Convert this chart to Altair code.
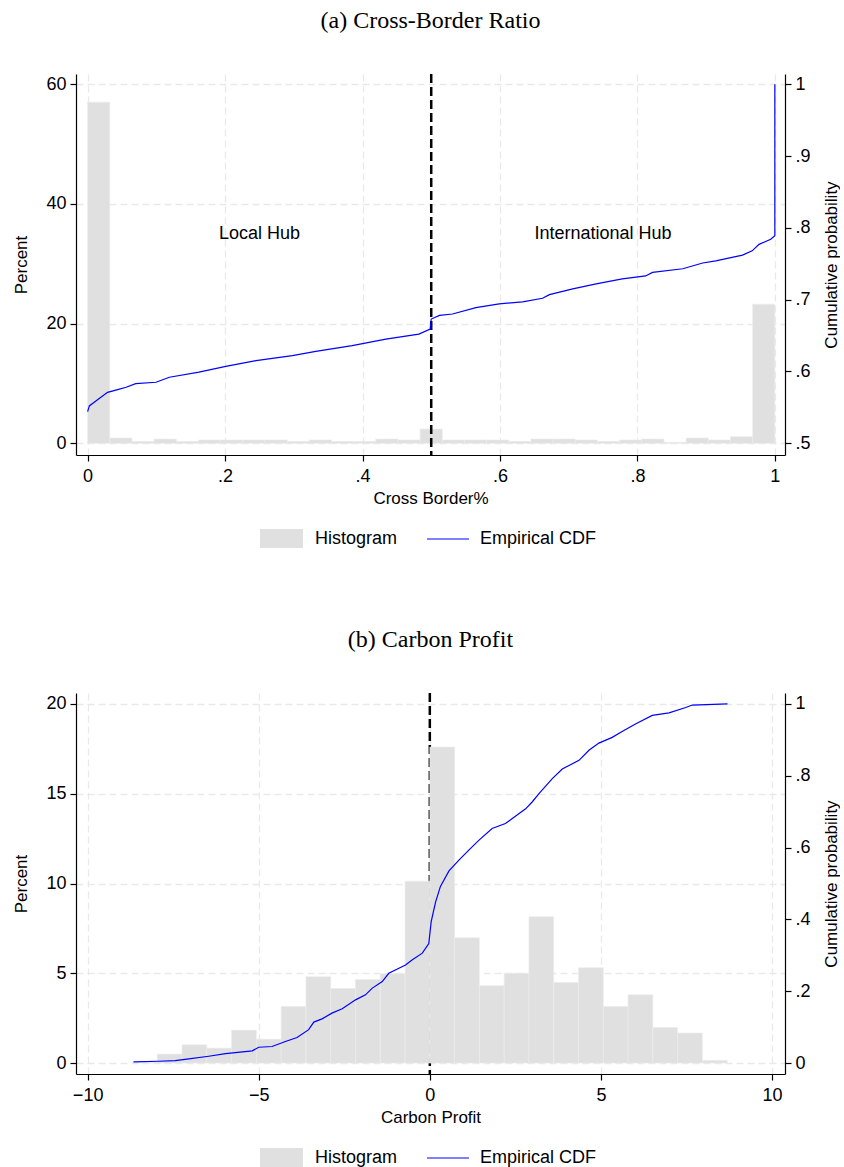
import altair as alt
import pandas as pd

# ---------------- Panel (a): Cross-Border Ratio ----------------
a_title = "(a) Cross-Border Ratio"
a_xtitle = "Cross Border%"
a_bins = 31
a_bin_start = 0.0
a_bin_width = 1.0 / 31
a_pct = [57.0, 0.89, 0.33, 0.72, 0.33, 0.56, 0.56, 0.56, 0.56, 0.33, 0.56,
         0.33, 0.33, 0.72, 0.56, 2.39, 0.56, 0.56, 0.56, 0.33, 0.72, 0.72,
         0.56, 0.33, 0.56, 0.72, 0.17, 0.89, 0.56, 1.11, 23.25]
a_cdf_x = [0.0, 0.0025, 0.012, 0.029, 0.045, 0.056, 0.070, 0.0995, 0.119, 0.162,
           0.201, 0.245, 0.298, 0.332, 0.385, 0.434, 0.482, 0.4985, 0.5, 0.512,
           0.531, 0.565, 0.599, 0.633, 0.662, 0.672, 0.706, 0.740, 0.778, 0.812,
           0.822, 0.866, 0.895, 0.914, 0.953, 0.967, 0.977, 0.994, 1.0, 1.0]
a_cdf_y = [0.544, 0.552, 0.559, 0.571, 0.575, 0.578, 0.583, 0.585, 0.592, 0.599,
           0.607, 0.615, 0.622, 0.628, 0.636, 0.645, 0.652, 0.659, 0.673, 0.678,
           0.680, 0.689, 0.694, 0.697, 0.702, 0.707, 0.715, 0.722, 0.729, 0.733,
           0.738, 0.743, 0.751, 0.754, 0.762, 0.768, 0.777, 0.784, 0.789, 1.0]
a_cutoff = 0.5
a_labels = ["Local Hub", "International Hub"]
a_label_x = [0.25, 0.75]
a_label_y = [35, 35]
a_xticks = [0, 0.2, 0.4, 0.6, 0.8, 1]
a_yticks = [0, 20, 40, 60]
a_cticks = [0.5, 0.6, 0.7, 0.8, 0.9, 1]

# ---------------- Panel (b): Carbon Profit ----------------
b_title = "(b) Carbon Profit"
b_xtitle = "Carbon Profit"
b_bins = 24
b_bin_start = -8.69
b_bin_width = 0.7242
b_pct = [0.05, 0.5, 1.02, 0.83, 1.83, 1.33, 3.15, 4.81, 4.15, 4.65, 4.98, 10.13,
         17.6, 6.98, 4.31, 5.0, 8.15, 4.48, 5.31, 3.15, 3.80, 1.98, 1.67, 0.15]
b_cdf_x = [-8.66, -7.92, -7.44, -7.10, -6.46, -5.97, -5.19, -5.0, -4.61, -4.22,
           -3.88, -3.54, -3.39, -3.15, -2.86, -2.56, -2.17, -1.88, -1.69, -1.39,
           -1.20, -0.71, -0.52, -0.22, -0.03, 0.04, 0.17, 0.31, 0.56, 0.85,
           1.14, 1.43, 1.82, 2.21, 2.41, 2.80, 2.99, 3.19, 3.58, 3.87,
           4.36, 4.65, 4.94, 5.33, 5.62, 6.01, 6.50, 6.99, 7.48, 7.67, 8.70]
b_cdf_y = [0.003, 0.005, 0.007, 0.011, 0.019, 0.026, 0.034, 0.044, 0.046, 0.060,
           0.071, 0.093, 0.114, 0.123, 0.139, 0.151, 0.176, 0.190, 0.208, 0.227,
           0.25, 0.273, 0.287, 0.306, 0.333, 0.394, 0.449, 0.492, 0.535, 0.565,
           0.593, 0.62, 0.653, 0.667, 0.681, 0.708, 0.727, 0.75, 0.792, 0.819,
           0.843, 0.871, 0.891, 0.907, 0.923, 0.944, 0.968, 0.975, 0.99, 0.997, 1.0]
b_cutoff = 0.0
b_xticks = [-10, -5, 0, 5, 10]
b_yticks = [0, 5, 10, 15, 20]
b_cticks = [0, 0.2, 0.4, 0.6, 0.8, 1]

SANS = "Liberation Sans"
SERIF = "Liberation Serif"
BAR = "#e0e0e0"
GRID = "#e9e9e9"
W, H = 709, 381

stata_fmt = ("datum.value == 0 ? '0' : datum.value == 1 ? '1' : "
             "replace(format(datum.value, '.1f'), '0.', '.')")


def bar_frame(start, width, pct):
    return pd.DataFrame({
        "x0": [start + i * width for i in range(len(pct))],
        "x1": [start + (i + 1) * width for i in range(len(pct))],
        "pct": pct,
        "series": ["Histogram"] * len(pct),
    })


def panel(title, xtitle, bars_df, cdf_x, cdf_y, cutoff, xdom, ydom, cdom,
          xticks, yticks, cticks, xlabel_expr, rule_on_top, labels=None):
    xscale = alt.Scale(domain=xdom, nice=False, zero=False)
    xaxis = alt.Axis(values=xticks, title=xtitle, grid=True, labelExpr=xlabel_expr) \
        if xlabel_expr else alt.Axis(values=xticks, title=xtitle, grid=True)

    bars = alt.Chart(bars_df).mark_bar(stroke="#ececec", strokeWidth=0.6).encode(
        x=alt.X("x0:Q", scale=xscale, axis=xaxis),
        x2="x1:Q",
        y=alt.Y("pct:Q", scale=alt.Scale(domain=ydom, nice=False, zero=False),
                axis=alt.Axis(values=yticks, title="Percent", orient="left", grid=True)),
        y2=alt.datum(0),
        fill=alt.Fill("series:N", scale=alt.Scale(domain=["Histogram"], range=[BAR]),
                      legend=alt.Legend(title=None, orient="none", legendX=184, legendY=443,
                                        direction="horizontal",
                                        symbolType="M-1,-0.44H1V0.44H-1Z", symbolSize=1849,
                                        symbolStrokeWidth=0, labelOffset=12,
                                        labelFontSize=18, labelFont=SANS, padding=0)),
    )

    rule = alt.Chart(pd.DataFrame({"x": [cutoff]})).mark_rule(
        color="black", strokeWidth=2.5, strokeDash=[9, 4]
    ).encode(x=alt.X("x:Q", scale=xscale, axis=xaxis))

    cdf_df = pd.DataFrame({"x": cdf_x, "cdf": cdf_y, "i": list(range(len(cdf_x))),
                           "series": ["Empirical CDF"] * len(cdf_x)})
    line = alt.Chart(cdf_df).mark_line(strokeWidth=1.2).encode(
        x=alt.X("x:Q", scale=xscale, axis=xaxis),
        y=alt.Y("cdf:Q", scale=alt.Scale(domain=cdom, nice=False, zero=False),
                axis=alt.Axis(values=cticks, title="Cumulative probability", orient="right",
                              grid=False, labelExpr=stata_fmt, titleAngle=270,
                              titlePadding=30)),
        order="i:Q",
        stroke=alt.Stroke("series:N", scale=alt.Scale(domain=["Empirical CDF"], range=["#0000ff"]),
                          legend=alt.Legend(title=None, orient="none", legendX=350, legendY=443,
                                            direction="horizontal", symbolType="stroke",
                                            symbolSize=1764, symbolStrokeWidth=1.2,
                                            labelOffset=10, labelFontSize=18,
                                            labelFont=SANS, padding=0)),
    )

    if rule_on_top:
        layers = [bars, rule]
    else:
        layers = [rule, bars]
    if labels is not None:
        text = alt.Chart(labels).mark_text(fontSize=18, font=SANS, color="black").encode(
            x=alt.X("x:Q", scale=xscale, axis=xaxis),
            y=alt.Y("y:Q", scale=alt.Scale(domain=ydom, nice=False, zero=False), axis=None),
            text="label:N",
        )
        layers.append(text)
    layers.append(line)

    return alt.layer(*layers).resolve_scale(y="independent").properties(
        width=W, height=H,
        title=alt.TitleParams(title, font=SERIF, fontSize=24, fontWeight="normal",
                              anchor="middle", offset=40, color="black"),
    )


a_labels_df = pd.DataFrame({"x": a_label_x, "y": a_label_y, "label": a_labels})

top = panel(a_title, a_xtitle, bar_frame(a_bin_start, a_bin_width, a_pct), a_cdf_x, a_cdf_y,
            a_cutoff, [-0.0169, 1.0148], [-1.95, 61.7], [0.4837, 1.0142],
            a_xticks, a_yticks, a_cticks, stata_fmt, True, a_labels_df)

bottom = panel(b_title, b_xtitle, bar_frame(b_bin_start, b_bin_width, b_pct), b_cdf_x, b_cdf_y,
               b_cutoff, [-10.34, 10.38], [-0.61, 20.61], [-0.0305, 1.0305],
               b_xticks, b_yticks, b_cticks, None, False)

chart = alt.vconcat(top, bottom, spacing=79).resolve_scale(
    x="independent", y="independent", fill="independent", stroke="independent"
).resolve_legend(fill="independent", stroke="independent").properties(
    padding={"left": 12, "top": 8, "right": 0, "bottom": 5}
).configure_view(stroke=None).configure_axis(
    domainColor="black", domainWidth=1.2, tickColor="black", tickWidth=1.2, tickSize=6,
    labelFont=SANS, labelFontSize=18, labelColor="black", labelPadding=4,
    titleFont=SANS, titleFontSize=17, titleFontWeight="normal", titleColor="black",
    titlePadding=15, gridColor=GRID, gridDash=[7, 4], gridWidth=1.3,
).configure_axisX(titlePadding=5, labelPadding=6).configure_legend(
    labelColor="black"
)

chart.save("out.html", embed_options={"renderer": "svg", "actions": False})
